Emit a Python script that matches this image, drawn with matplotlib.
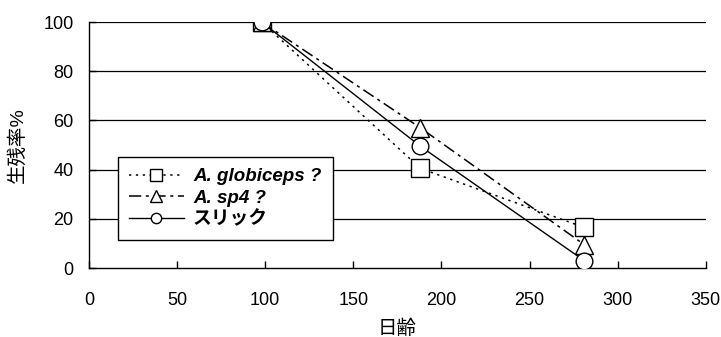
import matplotlib
matplotlib.use("Agg")
import matplotlib.pyplot as plt

plt.rcParams["font.family"] = ["Liberation Sans", "Noto Sans CJK JP"]

# data
days = [98, 188, 281]
globiceps = [100, 40.5, 16.5]
sp4 = [100, 57, 9.5]
slick = [100, 49.5, 3]

labels = ["A. globiceps ?", "A. sp4 ?", "スリック"]
x_ticks = [0, 50, 100, 150, 200, 250, 300, 350]
y_ticks = [0, 20, 40, 60, 80, 100]

fig = plt.figure(figsize=(7.21, 3.37), dpi=100)
ax = fig.add_axes([0.1234, 0.2047, 0.8556, 0.73])

for y in y_ticks[1:]:
    ax.axhline(y, color="black", lw=0.9, zorder=1)

ax.plot(days, globiceps, linestyle=(0, (1.5, 3)), color="black", lw=1.1,
        marker="s", markersize=13, markerfacecolor="white",
        markeredgecolor="black", markeredgewidth=1.0, label=labels[0], zorder=3)
ax.plot(days, sp4, linestyle=(0, (8, 3, 2, 3)), color="black", lw=1.1,
        marker="^", markersize=13, markerfacecolor="white",
        markeredgecolor="black", markeredgewidth=1.0, label=labels[1], zorder=3)
ax.plot(days, slick, linestyle="-", color="black", lw=1.0,
        marker="o", markersize=12, markerfacecolor="white",
        markeredgecolor="black", markeredgewidth=1.0, label=labels[2], zorder=4)

ax.set_xlim(0, 350)
ax.set_ylim(0, 100)
ax.set_xticks(x_ticks)
ax.set_yticks(y_ticks)
ax.tick_params(direction="in", length=5, width=1, labelsize=13, color="black")
ax.tick_params(axis="x", pad=17)
ax.tick_params(axis="y", pad=11)
ax.spines["top"].set_visible(False)
ax.spines["right"].set_visible(False)
for s in ["left", "bottom"]:
    ax.spines[s].set_linewidth(1.0)

ax.set_xlabel("日齢", fontsize=14, labelpad=8)
ax.set_ylabel("生残率%", fontsize=14, labelpad=12)

leg = ax.legend(loc="upper left", bbox_to_anchor=(0.047, 0.451),
                borderaxespad=0, fancybox=False, framealpha=1,
                edgecolor="black", handlelength=2.9, handletextpad=0.5,
                labelspacing=0.22, borderpad=0.6, markerscale=0.62,
                prop={"size": 13.5, "weight": "bold", "style": "italic"})
leg.get_frame().set_linewidth(1.0)

fig.savefig("out.png", dpi=100)
